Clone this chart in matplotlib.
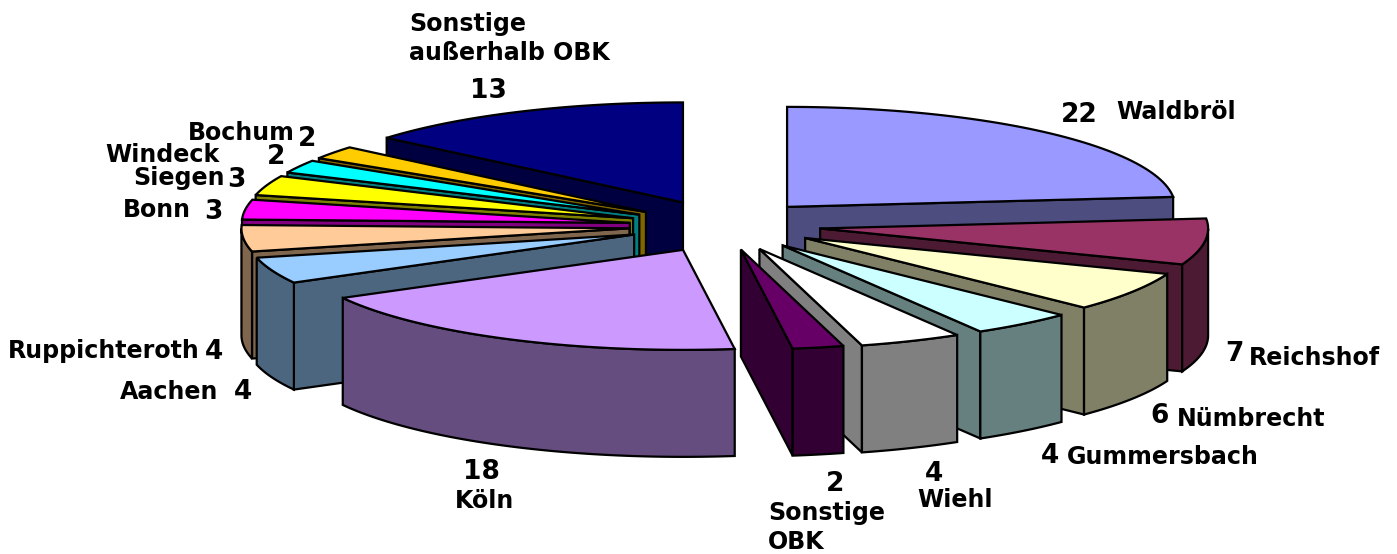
import numpy as np
import matplotlib.pyplot as plt
from matplotlib.patches import Polygon

names = ["Waldbröl", "Reichshof", "Nümbrecht", "Gummersbach", "Wiehl", "Sonstige OBK", "Köln",
         "Aachen", "Ruppichteroth", "Bonn", "Siegen", "Windeck", "Bochum", "Sonstige außerhalb OBK"]
values = np.array([22, 7, 6, 4, 4, 2, 18, 4, 4, 3, 3, 2, 2, 13])
colors = ["#9999FF", "#993366", "#FFFFCC", "#CCFFFF", "#FFFFFF", "#660066", "#CC99FF",
          "#99CCFF", "#FFCC99", "#FF00FF", "#FFFF00", "#00FFFF", "#FFCC00", "#000080"]
explode = [100, 101, 101, 101, 101, 105, 82, 92, 91, 91, 92, 92, 92, 88]
lift = [-2, -3, -4, -3, -3, -5, 3, -2, -2, -2, -2, -2, -2, -5]

# pie geometry in pixels
cx, cy = 720, 228
rx, ry = 388, 100
h = 107

def dark(c):
    c = np.array([int(c[i:i + 2], 16) for i in (1, 3, 5)]) / 255
    return tuple(c * 0.5)

fig = plt.figure(figsize=(13.97, 5.54), dpi=100)
ax = fig.add_axes([0, 0, 1, 1])
ax.set_xlim(0, 1397)
ax.set_ylim(554, 0)
ax.axis("off")

edges = np.concatenate([[0], np.cumsum(values)]) / values.sum() * 2 * np.pi
mids = (edges[:-1] + edges[1:]) / 2

# back slices first, the front ones paint over them
for i in np.argsort(-np.cos(mids)):
    t1, t2 = edges[i], edges[i + 1]
    x0 = cx + explode[i] * np.sin(mids[i])
    y0 = cy + lift[i] - explode[i] * ry / rx * np.cos(mids[i])
    ts = np.linspace(t1, t2, 60)
    xs = x0 + rx * np.sin(ts)
    ys = y0 - ry * np.cos(ts)
    side = dark(colors[i])
    # cut faces looking at the viewer
    for t, sign in ((t1, -1), (t2, 1)):
        if np.cos(t + sign * np.pi / 2) < 0:
            px = x0 + rx * np.sin(t)
            py = y0 - ry * np.cos(t)
            ax.add_patch(Polygon([(x0, y0), (px, py), (px, py + h), (x0, y0 + h)],
                                 fc=side, ec="black", lw=1.6))
    # rim
    ts2 = ts[(ts > np.pi / 2) & (ts < 3 * np.pi / 2)]
    if len(ts2):
        rim_x = x0 + rx * np.sin(ts2)
        rim_y = y0 - ry * np.cos(ts2)
        pts = list(zip(rim_x, rim_y)) + list(zip(rim_x[::-1], rim_y[::-1] + h))
        ax.add_patch(Polygon(pts, fc=side, ec="black", lw=1.6))
    pts = [(x0, y0)] + list(zip(xs, ys))
    ax.add_patch(Polygon(pts, fc=colors[i], ec="black", lw=1.6))

fs = 17.1
fn = 19

def label(x, y, s, size=fs):
    ax.text(x, y, s, fontsize=size, fontweight="bold", family="DejaVu Sans", va="center", ha="left", zorder=100)

label(409, 24, "Sonstige")
label(409, 53, "außerhalb OBK")
label(470, 91, "13", fn)
label(1061, 115, "22", fn)
label(1116, 112, "Waldbröl")
label(1225, 354, "7", fn)
label(1249, 358, "Reichshof")
label(1150, 416, "6", fn)
label(1177, 419, "Nümbrecht")
label(1041, 456, "4", fn)
label(1067, 457, "Gummersbach")
label(925, 474, "4", fn)
label(917, 500, "Wiehl")
label(826, 484, "2", fn)
label(768, 513, "Sonstige")
label(768, 542, "OBK")
label(463, 472, "18", fn)
label(455, 501, "Köln")
label(120, 392, "Aachen")
label(234, 392, "4", fn)
label(8, 351, "Ruppichteroth")
label(205, 352, "4", fn)
label(123, 210, "Bonn")
label(204, 212, "3", fn)
label(133, 178, "Siegen")
label(227, 180, "3", fn)
label(105, 155, "Windeck")
label(267, 157, "2", fn)
label(188, 133, "Bochum")
label(298, 139, "2", fn)

plt.savefig("out.png", dpi=100)
